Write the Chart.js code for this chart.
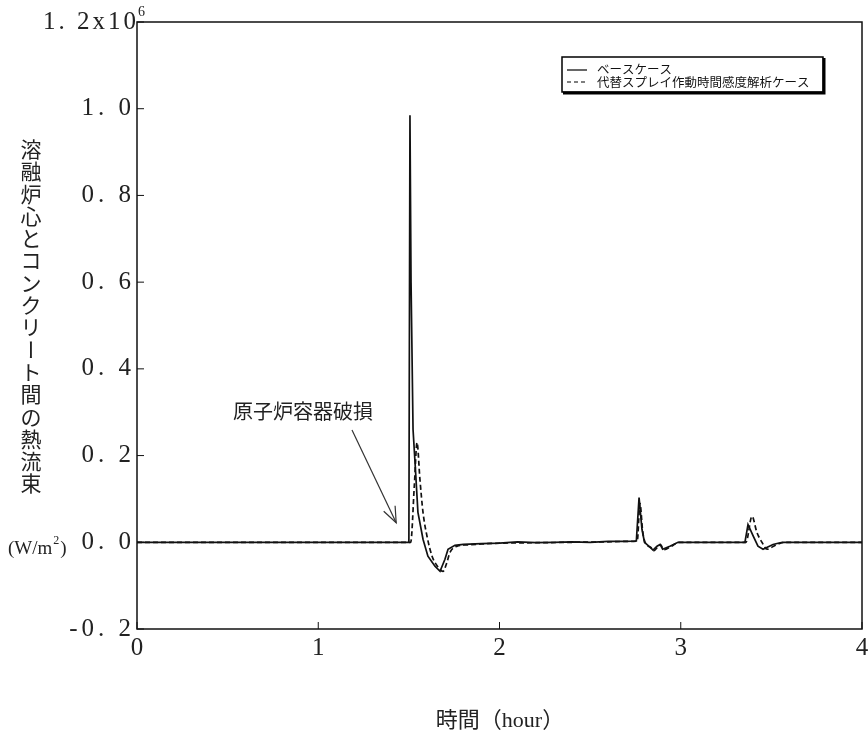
<!DOCTYPE html>
<html><head><meta charset="utf-8">
<script src="https://cdn.jsdelivr.net/npm/chart.js@4.4.1/dist/chart.umd.min.js"></script>
<style>html,body{margin:0;padding:0;background:#fff}#wrap{width:868px;height:736px}</style>
</head><body><div id="wrap"><canvas id="c" width="868" height="736"></canvas></div>
<script>
// values in units of 10^6 W/m^2, time in hours
const baseX = [0, 1.500, 1.506, 1.512, 1.523, 1.534, 1.550, 1.578, 1.605, 1.644, 1.672, 1.699, 1.716, 1.754, 1.80, 1.90, 2.00, 2.10, 2.20, 2.30, 2.40, 2.50, 2.60, 2.70, 2.755, 2.770, 2.786, 2.800, 2.830, 2.847, 2.869, 2.886, 2.900, 2.940, 2.985, 3.10, 3.20, 3.30, 3.354, 3.371, 3.400, 3.426, 3.454, 3.509, 3.560, 3.70, 4.0];
const baseY = [0, 0, 0.985, 0.60, 0.26, 0.184, 0.069, 0.007, -0.032, -0.055, -0.067, -0.039, -0.016, -0.007, -0.005, -0.003, -0.002, 0.001, -0.001, 0, 0.001, 0, 0.002, 0.002, 0.003, 0.103, 0.03, 0, -0.011, -0.018, -0.009, -0.005, -0.016, -0.009, 0, 0, 0, 0, 0, 0.041, 0.014, -0.009, -0.016, -0.005, 0, 0, 0];
const altX = [0, 1.510, 1.530, 1.545, 1.561, 1.578, 1.600, 1.628, 1.661, 1.688, 1.710, 1.727, 1.766, 1.82, 1.90, 2.00, 2.20, 2.40, 2.60, 2.70, 2.760, 2.775, 2.790, 2.805, 2.835, 2.850, 2.875, 2.890, 2.905, 2.945, 2.990, 3.20, 3.36, 3.393, 3.420, 3.448, 3.476, 3.530, 3.580, 3.70, 4.0];
const altY = [0, 0, 0.13, 0.23, 0.145, 0.069, 0.014, -0.032, -0.057, -0.067, -0.046, -0.023, -0.009, -0.006, -0.004, -0.002, -0.001, 0, 0.001, 0.002, 0.003, 0.09, 0.025, -0.002, -0.012, -0.02, -0.01, -0.006, -0.017, -0.01, 0, 0, 0, 0.06, 0.023, 0, -0.016, -0.005, 0, 0, 0];
const seriesNames = ['ベースケース', '代替スプレイ作動時間感度解析ケース'];
const xTicks = [0, 1, 2, 3, 4];
const yTicks = [-0.2, 0, 0.2, 0.4, 0.6, 0.8, 1.0, 1.2];
const yTopLabel = '1. 2x10';
const yTopExp = '6';
const yTitleChars = '溶融炉心とコンクリート間の熱流束';
const yUnit = '(W/m';
const xTitle = '時間（hour）';
const annotationText = '原子炉容器破損';
const arrowTip = {x: 1.43, y: 0.045};

const toPts = (xs, ys) => xs.map((x, i) => ({x, y: ys[i]}));
const fmtY = v => Math.abs(v - 1.2) < 1e-9 ? '' : v.toFixed(1).replace('.', '. ');

const spacing = {
  id: 'spacing',
  beforeDraw(chart) { chart.ctx.letterSpacing = '4px'; },
  beforeDatasetsDraw(chart) { chart.ctx.letterSpacing = '0px'; }
};

const decor = {
  id: 'decor',
  afterDraw(chart) {
    const ctx = chart.ctx, a = chart.chartArea, xs = chart.scales.x, ys = chart.scales.y;
    ctx.save();
    ctx.letterSpacing = '0px';
    // frame
    ctx.strokeStyle = '#111'; ctx.lineWidth = 1.5;
    ctx.strokeRect(a.left, a.top, a.right - a.left, a.bottom - a.top);
    // inside ticks
    ctx.lineWidth = 1;
    xTicks.forEach(t => { const p = xs.getPixelForValue(t); ctx.beginPath(); ctx.moveTo(p, a.bottom); ctx.lineTo(p, a.bottom - 7); ctx.stroke(); });
    yTicks.forEach(t => { const p = ys.getPixelForValue(t); ctx.beginPath(); ctx.moveTo(a.left, p); ctx.lineTo(a.left + 7, p); ctx.stroke(); });
    // top y label with exponent
    ctx.fillStyle = '#222'; ctx.textBaseline = 'middle'; ctx.textAlign = 'right';
    const ty0 = ys.getPixelForValue(1.2);
    ctx.letterSpacing = '3px';
    ctx.font = '25px "Liberation Serif"';
    ctx.fillText(yTopLabel, a.left + 2, ty0);
    ctx.letterSpacing = '0px';
    ctx.textAlign = 'left'; ctx.font = '14px "Liberation Serif"';
    ctx.fillText(yTopExp, a.left + 1, ty0 - 10);
    // y title vertical
    ctx.textAlign = 'center';
    ctx.font = '21px "Noto Sans CJK JP"';
    [...yTitleChars].forEach((ch, i) => {
      if (ch === 'ー') {
        ctx.save(); ctx.translate(31, 149 + i * 22.3); ctx.rotate(Math.PI / 2); ctx.fillText(ch, 0, 0); ctx.restore();
      } else ctx.fillText(ch, 31, 149 + i * 22.3);
    });
    // unit
    ctx.font = '19px "Liberation Serif"'; ctx.textAlign = 'left';
    const ux = 8, uy = 549;
    ctx.fillText(yUnit, ux, uy);
    let w = ctx.measureText(yUnit).width;
    ctx.font = '12px "Liberation Serif"'; ctx.fillText('2', ux + w + 1, uy - 8);
    ctx.font = '19px "Liberation Serif"'; ctx.fillText(')', ux + w + 8, uy);
    // x title
    ctx.textAlign = 'center';
    ctx.font = '22px "Liberation Serif", "Noto Sans CJK JP"';
    ctx.fillText(xTitle, 500, 721);
    // annotation
    ctx.font = '20px "Noto Sans CJK JP"';
    ctx.fillText(annotationText, 303, 411);
    const tx = xs.getPixelForValue(arrowTip.x), ty = ys.getPixelForValue(arrowTip.y);
    const sx = 352, sy = 430;
    ctx.strokeStyle = '#333'; ctx.lineWidth = 1.2;
    ctx.beginPath(); ctx.moveTo(sx, sy); ctx.lineTo(tx, ty); ctx.stroke();
    const ang = Math.atan2(ty - sy, tx - sx), L = 17;
    ctx.beginPath();
    ctx.moveTo(tx - L * Math.cos(ang - 0.38), ty - L * Math.sin(ang - 0.38));
    ctx.lineTo(tx, ty);
    ctx.lineTo(tx - L * Math.cos(ang + 0.38), ty - L * Math.sin(ang + 0.38));
    ctx.stroke();
    // legend
    const lx = 562, ly = 57, lw = 261, lh = 35;
    ctx.fillStyle = '#fff'; ctx.fillRect(lx, ly, lw, lh);
    ctx.strokeStyle = '#000'; ctx.lineWidth = 1.5; ctx.strokeRect(lx, ly, lw, lh);
    ctx.lineWidth = 3;
    ctx.beginPath(); ctx.moveTo(lx + lw + 1, ly + 1); ctx.lineTo(lx + lw + 1, ly + lh + 1); ctx.lineTo(lx + 1, ly + lh + 1); ctx.stroke();
    ctx.lineWidth = 1.2;
    ctx.beginPath(); ctx.moveTo(567, 70); ctx.lineTo(587, 70); ctx.stroke();
    ctx.setLineDash([4, 3]); ctx.beginPath(); ctx.moveTo(567, 82); ctx.lineTo(587, 82); ctx.stroke(); ctx.setLineDash([]);
    ctx.fillStyle = '#111'; ctx.textAlign = 'left'; ctx.font = '12.5px "Noto Sans CJK JP"';
    ctx.fillText(seriesNames[0], 597, 69);
    ctx.fillText(seriesNames[1], 597, 82);
    ctx.restore();
  }
};

new Chart(document.getElementById('c'), {
  type: 'line',
  data: {
    datasets: [
      {label: seriesNames[0], data: toPts(baseX, baseY), borderColor: '#111', borderWidth: 1.7, pointRadius: 0, fill: false, tension: 0},
      {label: seriesNames[1], data: toPts(altX, altY), borderColor: '#111', borderWidth: 1.7, borderDash: [5, 3], pointRadius: 0, fill: false, cubicInterpolationMode: 'monotone'}
    ]
  },
  options: {
    responsive: false, animation: false,
    layout: {padding: {top: 22, right: 0, left: 0, bottom: 0}},
    plugins: {legend: {display: false}, tooltip: {enabled: false}},
    scales: {
      x: {type: 'linear', min: 0, max: 4,
        afterFit: s => { s.height = 107; s.paddingRight = 6; },
        afterBuildTicks: s => { s.ticks = xTicks.map(v => ({value: v})); },
        grid: {display: false, drawTicks: false}, border: {display: false},
        ticks: {color: '#222', font: {family: '"Liberation Serif"', size: 25}, padding: 4, labelOffset: 2, maxRotation: 0, callback: v => String(v)}},
      y: {type: 'linear', min: -0.2, max: 1.2,
        afterFit: s => { s.width = 137; },
        afterBuildTicks: s => { s.ticks = yTicks.map(v => ({value: v})); },
        grid: {display: false, drawTicks: false}, border: {display: false},
        ticks: {color: '#222', font: {family: '"Liberation Serif"', size: 25}, padding: 2, callback: v => fmtY(v)}}
    }
  },
  plugins: [spacing, decor]
});
</script></body></html>
